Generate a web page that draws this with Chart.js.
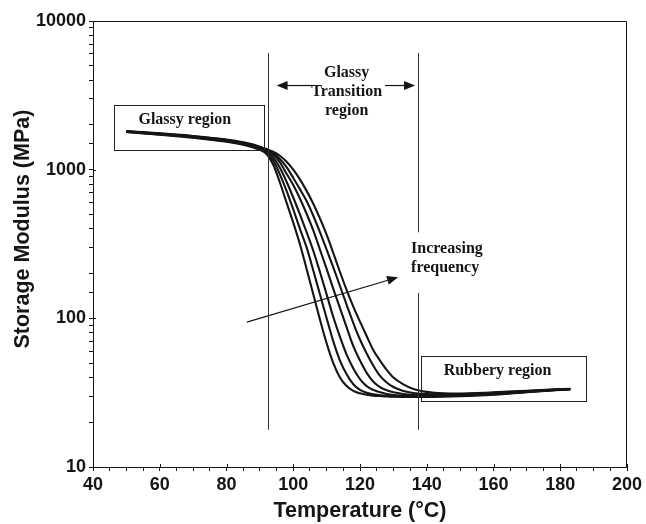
<!DOCTYPE html>
<html>
<head>
<meta charset="utf-8">
<title>Storage modulus vs temperature</title>
<script src="https://cdn.jsdelivr.net/npm/chart.js@4.4.0/dist/chart.umd.min.js"></script>
<style>
  html, body { margin: 0; padding: 0; background: #fff; }
  #wrap { width: 646px; height: 524px; }
</style>
</head>
<body>
<div id="wrap"><canvas id="dmaChart" width="646" height="524"></canvas></div>
<script>
// temperature grid (°C) shared by every curve
const temps = [50, 60, 70, 80, 85, 88, 90, 92, 94, 96, 98, 100, 102, 104, 106, 108, 110, 112, 114, 116,
               118, 120, 122, 124, 126, 128, 130, 133, 136, 140, 145, 150, 160, 170, 183];

// storage modulus (MPa), lowest frequency first
const freq1 = [1790, 1720, 1640, 1540, 1470, 1410, 1360, 1275, 1080, 820, 600, 440, 315, 215, 145, 98, 68, 50, 40, 35,
               32.5, 31.3, 30.6, 30.2, 30, 29.8, 29.7, 29.6, 29.6, 29.6, 29.7, 29.9, 30.6, 31.8, 33.3];
const freq2 = [1796, 1727, 1649, 1551, 1482, 1424, 1376, 1300, 1150, 930, 720, 540, 400, 300, 210, 145, 100, 70, 52, 42,
               36, 33, 31.6, 30.8, 30.4, 30.1, 29.9, 29.8, 29.8, 29.9, 30, 30.2, 30.8, 32, 33.4];
const freq3 = [1801, 1734, 1658, 1562, 1494, 1438, 1392, 1325, 1210, 1030, 830, 650, 500, 380, 285, 205, 145, 102, 75, 57,
               46, 39, 35, 33, 31.8, 31, 30.5, 30.2, 30.1, 30.1, 30.2, 30.4, 31, 32.1, 33.4];
const freq4 = [1807, 1741, 1667, 1573, 1506, 1452, 1405, 1345, 1260, 1120, 940, 790, 640, 505, 390, 290, 215, 158, 117, 87,
               65, 52, 43, 37.5, 34.5, 32.8, 31.8, 31, 30.6, 30.4, 30.5, 30.7, 31.2, 32.3, 33.5];
const freq5 = [1812, 1748, 1676, 1584, 1518, 1465, 1415, 1360, 1290, 1180, 1040, 880, 740, 615, 490, 380, 290, 220, 165, 123,
               93, 72, 58, 48, 41, 37, 34.5, 32.5, 31.5, 31, 30.8, 30.9, 31.5, 32.4, 33.5];
const freq6 = [1818, 1755, 1685, 1595, 1530, 1478, 1425, 1375, 1320, 1240, 1130, 1000, 860, 720, 590, 470, 365, 275, 205, 155,
               120, 95, 76, 61, 52, 45, 40, 36, 33.5, 32, 31.3, 31.2, 31.8, 32.6, 33.6];
const curves = [freq1, freq2, freq3, freq4, freq5, freq6];

// tick labels
const yLabels = [10, 100, 1000, 10000];
const xLabels = [40, 60, 80, 100, 120, 140, 160, 180, 200];

const ink = '#151515';
const tickFont = { family: '"Liberation Sans", Arial, sans-serif', size: 18, weight: 'bold' };
const titleFont = { family: '"Liberation Sans", Arial, sans-serif', size: 21.5, weight: 'bold' };
const noteFont = 'bold 16px "Liberation Serif", "Times New Roman", serif';

// arrow with filled head, pixel coords
function drawArrow(ctx, x1, y1, x2, y2) {
    var a = Math.atan2(y2 - y1, x2 - x1);
    var len = 11, half = 4.5;
    ctx.beginPath();
    ctx.moveTo(x1, y1);
    ctx.lineTo(x2 - len * 0.8 * Math.cos(a), y2 - len * 0.8 * Math.sin(a));
    ctx.stroke();
    ctx.beginPath();
    ctx.moveTo(x2, y2);
    ctx.lineTo(x2 - len * Math.cos(a) + half * Math.sin(a), y2 - len * Math.sin(a) - half * Math.cos(a));
    ctx.lineTo(x2 - len * Math.cos(a) - half * Math.sin(a), y2 - len * Math.sin(a) + half * Math.cos(a));
    ctx.closePath();
    ctx.fill();
}

// frame on top/right plus the region notes, placed in data units
const notes = {
    id: 'notes',
    afterDatasetsDraw(chart) {
        var ctx = chart.ctx;
        var xs = chart.scales.x, ys = chart.scales.y;
        var px = t => xs.getPixelForValue(t);
        var py = e => ys.getPixelForValue(e);
        var area = chart.chartArea;

        ctx.save();
        ctx.strokeStyle = ink;
        ctx.fillStyle = ink;
        ctx.lineWidth = 1;

        // top and right border of the plot
        ctx.beginPath();
        ctx.moveTo(Math.round(area.left) + 0.5, Math.round(area.top) + 0.5);
        ctx.lineTo(Math.round(area.right) - 0.5, Math.round(area.top) + 0.5);
        ctx.lineTo(Math.round(area.right) - 0.5, Math.round(area.bottom));
        ctx.stroke();

        // major ticks also cross into the plot a little
        ctx.beginPath();
        xLabels.forEach(function(t) {
            var x = Math.round(px(t)) + 0.5;
            ctx.moveTo(x, area.bottom);
            ctx.lineTo(x, area.bottom - 3);
        });
        yLabels.forEach(function(e) {
            var y = Math.round(py(e)) + 0.5;
            ctx.moveTo(area.left, y);
            ctx.lineTo(area.left + 3, y);
        });
        ctx.stroke();

        // vertical limits of the transition region
        ctx.strokeStyle = '#333';
        ctx.beginPath();
        ctx.moveTo(Math.round(px(92.5)) + 0.5, py(6100));
        ctx.lineTo(Math.round(px(92.5)) + 0.5, py(17.8));
        ctx.moveTo(Math.round(px(137.5)) + 0.5, py(6100));
        ctx.lineTo(Math.round(px(137.5)) + 0.5, py(379));
        ctx.moveTo(Math.round(px(137.5)) + 0.5, py(148));
        ctx.lineTo(Math.round(px(137.5)) + 0.5, py(17.8));
        ctx.stroke();

        // boxes
        ctx.strokeStyle = '#222';
        var box = (t1, t2, e1, e2) => {
            var x1 = Math.round(px(t1)) + 0.5, x2 = Math.round(px(t2)) + 0.5;
            var y1 = Math.round(py(e2)) + 0.5, y2 = Math.round(py(e1)) + 0.5;
            ctx.strokeRect(x1, y1, x2 - x1, y2 - y1);
        };
        box(46.2, 91.3, 1362, 2729);
        box(138.2, 187.8, 27.9, 56.1);

        // text
        ctx.font = noteFont;
        ctx.textBaseline = 'middle';
        ctx.textAlign = 'center';
        ctx.fillText('Glassy region', px(67.5), py(2168));
        ctx.fillText('Rubbery region', px(161.2), py(44.5));
        ctx.fillText('Glassy', px(116), py(4477));
        ctx.fillText('Transition', px(116), py(3318));
        ctx.fillText('region', px(116), py(2500));
        ctx.textAlign = 'left';
        ctx.fillText('Increasing', px(135.3), py(292));
        ctx.fillText('frequency', px(135.3), py(219));

        // arrows
        ctx.strokeStyle = ink;
        ctx.lineWidth = 1.2;
        drawArrow(ctx, px(105.9), py(3681), px(95), py(3681));
        drawArrow(ctx, px(127.5), py(3681), px(136.5), py(3681));
        drawArrow(ctx, px(86.1), py(94.4), px(131.4), py(189));
        ctx.restore();
    }
};

function buildChart() {
    var ctx = document.getElementById('dmaChart').getContext('2d');
    var datasets = curves.map(function(vals, k) {
        return {
            label: 'Frequency ' + (k + 1),
            data: temps.map((t, i) => ({ x: t, y: vals[i] })),
            borderColor: ink,
            borderWidth: 2.1,
            pointRadius: 0,
            fill: false,
            cubicInterpolationMode: 'monotone'
        };
    });

    new Chart(ctx, {
        type: 'line',
        data: { datasets: datasets },
        options: {
            responsive: false,
            animation: false,
            devicePixelRatio: 1,
            layout: { padding: { top: 21, right: 19, left: 0, bottom: 0 } },
            plugins: {
                legend: { display: false },
                tooltip: { enabled: false }
            },
            scales: {
                x: {
                    type: 'linear',
                    min: 40,
                    max: 200,
                    ticks: {
                        stepSize: 5,
                        autoSkip: false,
                        maxRotation: 0,
                        padding: 3,
                        color: ink,
                        font: tickFont,
                        callback: v => xLabels.includes(v) ? String(v) : ''
                    },
                    grid: { drawOnChartArea: false, tickLength: 4, color: ink },
                    border: { color: ink, width: 1 },
                    title: { display: true, text: 'Temperature (°C)', color: ink, font: titleFont, padding: { top: 0, bottom: 0 } },
                    afterFit: s => { s.height = 57; }
                },
                y: {
                    type: 'logarithmic',
                    min: 10,
                    max: 10000,
                    ticks: {
                        autoSkip: false,
                        padding: 3,
                        color: ink,
                        font: tickFont,
                        callback: v => yLabels.includes(Math.round(v)) && Math.abs(v - Math.round(v)) < 1e-6 ? String(Math.round(v)) : ''
                    },
                    grid: { drawOnChartArea: false, tickLength: 4, color: ink },
                    border: { color: ink, width: 1 },
                    // leading no-break spaces nudge the label up, as in the original
                    title: { display: true, text: '\u00a0\u00a0\u00a0\u00a0\u00a0Storage Modulus (MPa)', color: ink, font: titleFont, padding: { top: 10, bottom: 0 } },
                    afterFit: s => { s.width = 93; }
                }
            }
        },
        plugins: [notes]
    });
}

window.onload = function() {
    buildChart();
};
</script>
</body>
</html>
